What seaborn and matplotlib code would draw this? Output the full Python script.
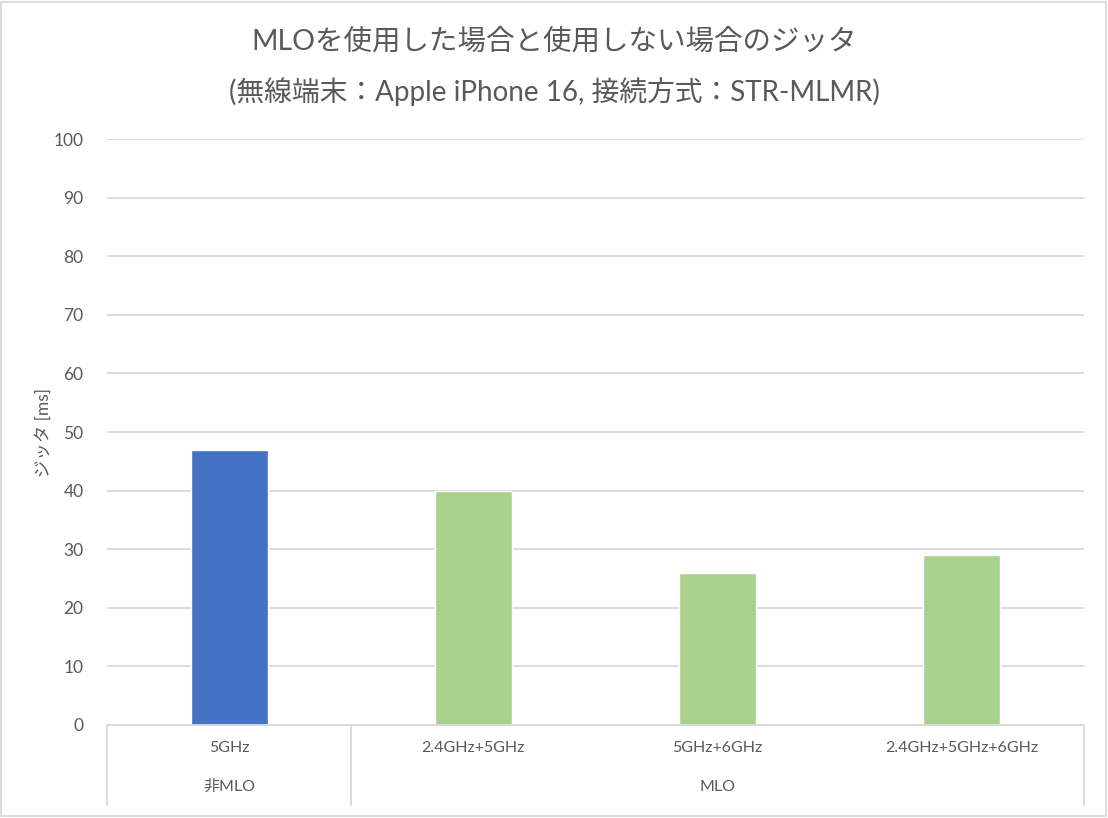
import seaborn as sns
import matplotlib.pyplot as plt
import matplotlib.transforms as mtransforms
from matplotlib.patches import Rectangle
import pandas as pd

# data
bands = ["5GHz", "2.4GHz+5GHz", "5GHz+6GHz", "2.4GHz+5GHz+6GHz"]
groups = ["非MLO", "MLO", "MLO", "MLO"]
jitter = [47, 40, 26, 29]
group_colors = {"非MLO": "#4472C4", "MLO": "#A9D18E"}

df = pd.DataFrame({"band": bands, "group": groups, "jitter": jitter})

sns.set_style("white")
fonts = ["Lato", "Noto Sans CJK JP", "DejaVu Sans"]
plt.rcParams["font.family"] = fonts
grey = "#595959"

fig = plt.figure(figsize=(11.08, 8.18), dpi=100)
ax = fig.add_axes([0.0966, 0.1137, 0.8817, 0.7163])

sns.barplot(data=df, x="band", y="jitter", hue="group", palette=group_colors,
            dodge=False, width=0.315, saturation=1, legend=False, ax=ax, zorder=2)

ax.set_ylim(0, 100)
ax.set_yticks(range(0, 101, 10))
ax.set_xlim(-0.5, len(bands) - 0.5)
ax.yaxis.grid(True, color="#D9D9D9", linewidth=1.3, zorder=0)
ax.set_axisbelow(True)
for s in ["top", "right", "left"]:
    ax.spines[s].set_visible(False)
ax.spines["bottom"].set_color("#D9D9D9")
ax.spines["bottom"].set_linewidth(1.3)
ax.tick_params(axis="y", length=0, labelsize=12.5, labelcolor=grey, pad=17)
ax.tick_params(axis="x", length=0, labelbottom=False)
ax.set_xlabel("")
ax.set_ylabel("ジッタ [ms]", fontsize=12.5, color=grey, labelpad=1)

# multi-level category axis
trans = mtransforms.blended_transform_factory(ax.transData, ax.transAxes)
for i, b in enumerate(bands):
    ax.text(i, -0.04, b, transform=trans, ha="center", va="center",
            fontsize=11.5, color=grey)
starts = [0]
for i in range(1, len(groups)):
    if groups[i] != groups[i - 1]:
        starts.append(i)
ends = starts[1:] + [len(groups)]
for s, e in zip(starts, ends):
    ax.text((s + e - 1) / 2, -0.106, groups[s], transform=trans, ha="center",
            va="center", fontsize=11.5, color=grey)
for x in starts + [len(groups)]:
    ax.plot([x - 0.5, x - 0.5], [0, -0.137], transform=trans, color="#D9D9D9",
            linewidth=1.3, clip_on=False)

fig.text(0.5, 0.949, "MLOを使用した場合と使用しない場合のジッタ", ha="center",
         va="center", fontsize=20.5, color=grey)
fig.text(0.5, 0.888, "(無線端末：Apple iPhone 16, 接続方式：STR-MLMR)", ha="center",
         va="center", fontsize=20, color=grey)

fig.patches.append(Rectangle((0.001, 0.002), 0.997, 0.996, transform=fig.transFigure,
                             fill=False, edgecolor="#D9D9D9", linewidth=1.3))

fig.savefig("out.png", dpi=100)
